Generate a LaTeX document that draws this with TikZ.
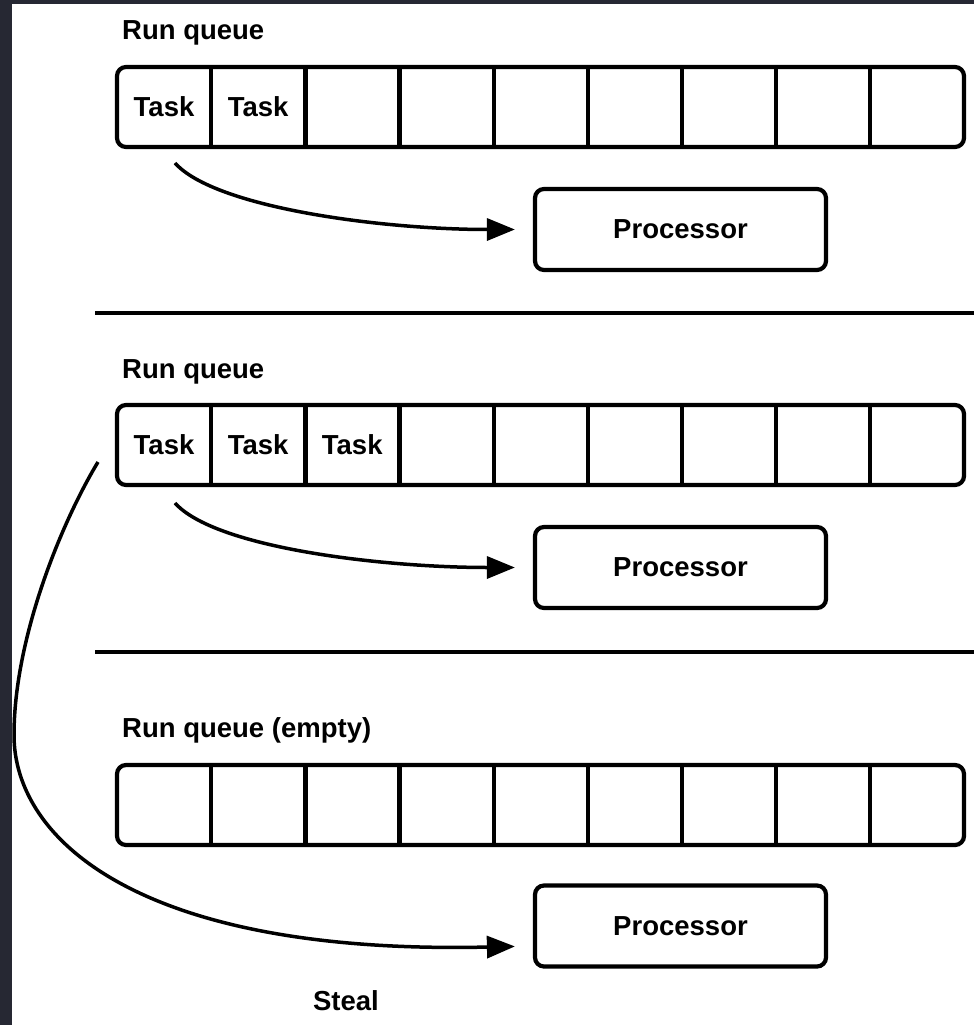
\documentclass[tikz,border=0pt]{standalone}
\usepackage{fontspec}
\setmainfont{Liberation Sans}
\usetikzlibrary{arrows.meta}
\definecolor{frame}{RGB}{38,40,51}

\tikzset{
  txt/.style={font=\fontsize{27.5}{33}\selectfont\bfseries},
  queue/.style={draw, line width=4.2pt, rounded corners=9pt, minimum width=847pt, minimum height=80pt, inner sep=0pt},
  cell/.style={txt, minimum width=94.1pt, minimum height=80pt, inner sep=0pt},
  proc/.style={txt, draw, line width=4.2pt, rounded corners=9pt, minimum width=291pt, minimum height=81pt},
  title/.style={txt, anchor=base west, inner sep=0pt},
  flow/.style={-{Triangle[length=28pt,width=22pt]}, line width=3.5pt, shorten >=18pt},
  rule/.style={line width=4.2pt}
}

\begin{document}
\begin{tikzpicture}[x=1pt,y=-1pt]
  % frame
  \fill[frame] (0,0) rectangle (974,1025);
  \fill[white] (12,4) rectangle (974,1025);
  \useasboundingbox (0,0) rectangle (974,1025);

  % first run queue
  \node[title] (ta) at (122,40) {Run queue};
  \node[queue] (qa) at (540.5,107) {};
  \foreach \i in {1,...,9}
    \node[cell] (qa\i) at ({117+94.1*(\i-0.5)},107) {\ifnum\i<3 Task\fi};
  \foreach \i in {1,...,8}
    \draw[rule] (qa\i.north east) -- (qa\i.south east);
  \node[proc] (pa) at (680.5,229.5) {Processor};
  \coordinate (sa) at (175,163);
  \draw[flow] (sa) .. controls +(40,45) and +(-150,0) .. (pa.west);

  \draw[rule] (95,313) -- (974,313);

  % second run queue
  \node[title] (tb) at (122,378) {Run queue};
  \node[queue] (qb) at (540.5,445) {};
  \foreach \i in {1,...,9}
    \node[cell] (qb\i) at ({117+94.1*(\i-0.5)},445) {\ifnum\i<4 Task\fi};
  \foreach \i in {1,...,8}
    \draw[rule] (qb\i.north east) -- (qb\i.south east);
  \node[proc] (pb) at (680.5,567.5) {Processor};
  \coordinate (sb) at (175,503);
  \draw[flow] (sb) .. controls +(40,45) and +(-150,0) .. (pb.west);

  \draw[rule] (95,652) -- (974,652);

  % empty run queue
  \node[title] (tc) at (122,737) {Run queue (empty)};
  \node[queue] (qc) at (540.5,805) {};
  \foreach \i in {1,...,9}
    \node[cell] (qc\i) at ({117+94.1*(\i-0.5)},805) {};
  \foreach \i in {1,...,8}
    \draw[rule] (qc\i.north east) -- (qc\i.south east);
  \node[proc] (pc) at (680.5,926) {Processor};

  % steal
  \coordinate (ss) at (98,462);
  \draw[flow] (ss) .. controls (60,525) and (14,640) .. (14,735)
    .. controls (14,840) and (140,955) .. ([yshift=-20pt]pc.west);
  \node[txt, anchor=base] (steal) at (346,1010) {Steal};
\end{tikzpicture}
\end{document}
